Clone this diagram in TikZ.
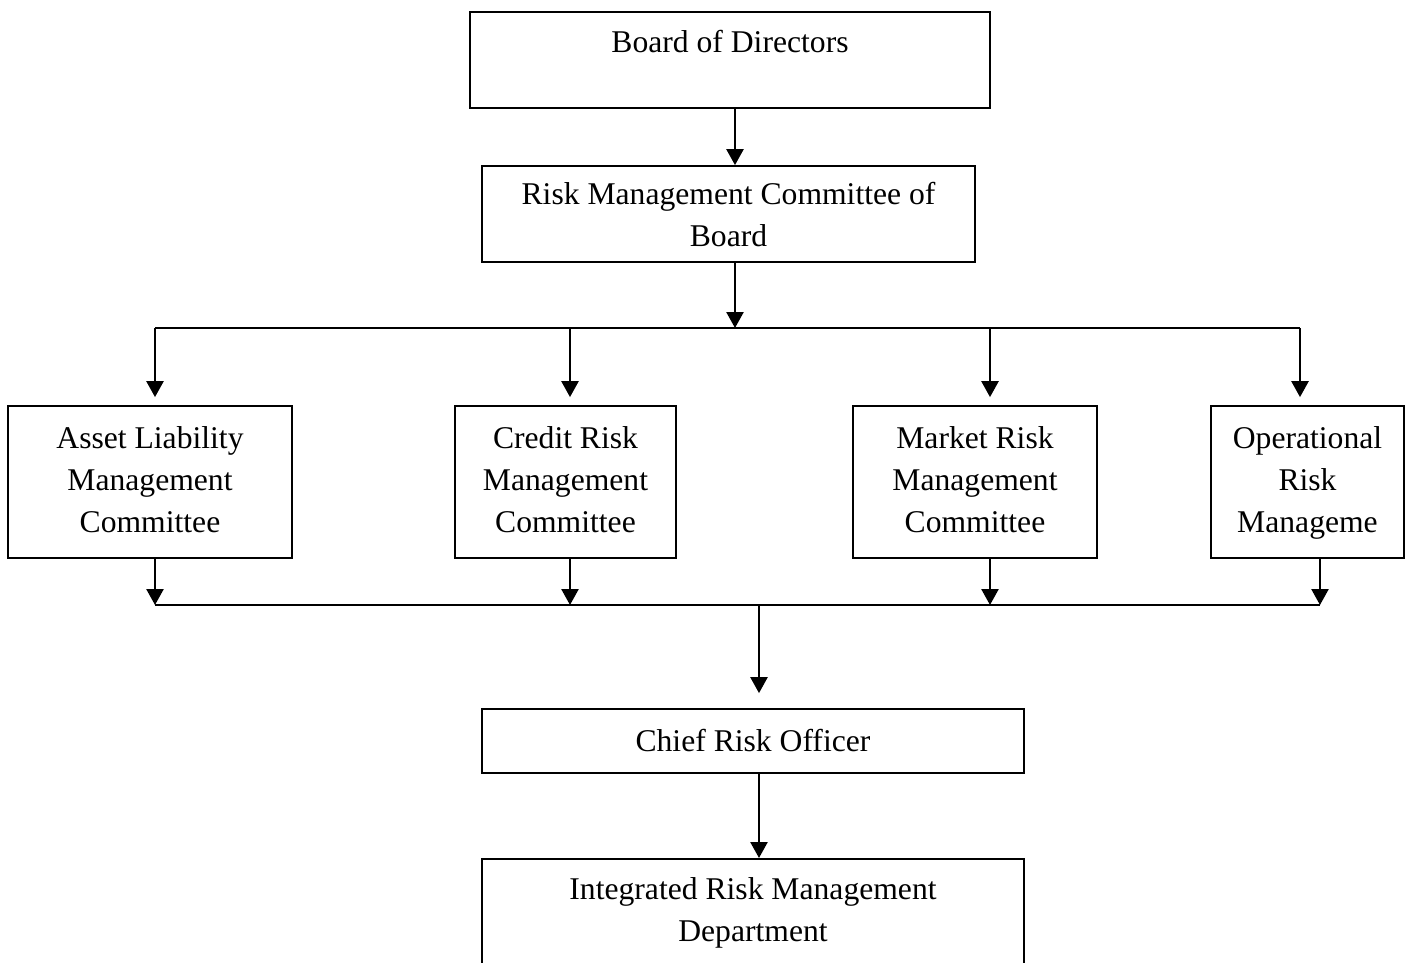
\documentclass[tikz,border=0pt]{standalone}
\usepackage{fontspec}
\setmainfont{Liberation Serif}
\usetikzlibrary{arrows.meta}
\tikzset{
	box/.style={draw,line width=1pt,align=center,inner sep=0pt},
	arr/.style={line width=1.4pt,-{Triangle[length=0.32cm,width=0.34cm]}},
	bus/.style={line width=1.4pt},
}

\begin{document}
\begin{tikzpicture}[font=\fontsize{18}{24}\selectfont]
	\useasboundingbox (0,0) rectangle (28.16,-19.24);
	% boxes
	\node[box,minimum width=10.4cm,minimum height=1.92cm] (board) at (14.6,-1.2) {};
	\node (boardtxt) at (14.6,-0.84) {Board of Directors};
	\node[box,minimum width=9.86cm,minimum height=1.92cm,text depth=-0.15em] (rmc) at (14.57,-4.28) {Risk Management Committee of\\Board};
	\node[box,minimum width=5.68cm,minimum height=3.04cm,text depth=0.25em] (alm) at (3.0,-9.64) {Asset Liability\\Management\\Committee};
	\node[box,minimum width=4.42cm,minimum height=3.04cm,text depth=0.25em] (crm) at (11.31,-9.64) {Credit Risk\\Management\\Committee};
	\node[box,minimum width=4.88cm,minimum height=3.04cm,text depth=0.25em] (mrm) at (19.5,-9.64) {Market Risk\\Management\\Committee};
	\node[box,minimum width=3.86cm,minimum height=3.04cm,text depth=0.25em] (orm) at (26.15,-9.64) {Operational\\Risk\\Manageme};
	\node[box,minimum width=10.84cm,minimum height=1.28cm] (cro) at (15.06,-14.82) {Chief Risk Officer};
	\node[box,anchor=north,minimum width=10.84cm,minimum height=3cm] (irm) at (15.06,-17.16) {};
	\node[align=center] (irmtxt) at (15.06,-18.26) {Integrated Risk Management\\Department};
	% top bus
	\coordinate (spine) at (14.7,-6.56);
	\coordinate (topL) at (3.1,-6.56);
	\coordinate (topR) at (26.0,-6.56);
	\draw[arr] (board.south -| spine) -- (rmc.north -| spine);
	\draw[arr] (rmc.south -| spine) -- (spine);
	\draw[bus] (topL) -- (topR);
	\draw[arr,shorten >=0.16cm] (topL) -- (alm.north -| topL);
	\draw[arr,shorten >=0.16cm] (11.4,-6.56) -- (alm.north -| 11.4,0);
	\draw[arr,shorten >=0.16cm] (19.8,-6.56) -- (mrm.north -| 19.8,0);
	\draw[arr,shorten >=0.16cm] (topR) -- (orm.north -| topR);
	% bottom bus
	\coordinate (lowL) at (3.1,-12.1);
	\coordinate (lowR) at (26.4,-12.1);
	\coordinate (lowmid) at (15.18,-12.1);
	\draw[bus] (lowL) -- (lowR);
	\draw[arr] (alm.south -| lowL) -- (lowL);
	\draw[arr] (crm.south -| 11.4,0) -- (11.4,-12.1);
	\draw[arr] (mrm.south -| 19.8,0) -- (19.8,-12.1);
	\draw[arr] (orm.south -| lowR) -- (lowR);
	\draw[arr,shorten >=0.3cm] (lowmid) -- (cro.north -| lowmid);
	\draw[arr] (cro.south -| lowmid) -- (irm.north -| lowmid);
\end{tikzpicture}
\end{document}
